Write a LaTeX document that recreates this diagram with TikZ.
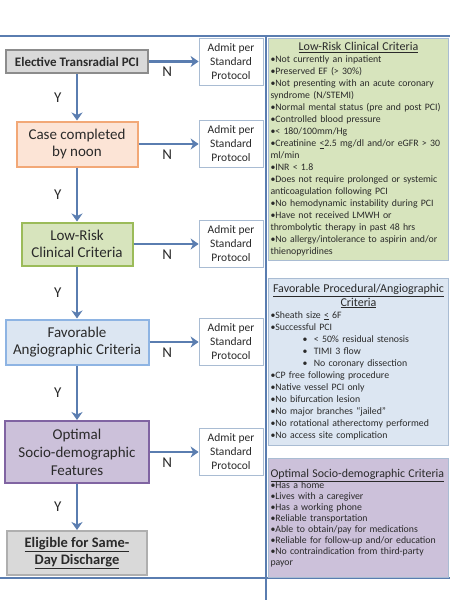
\documentclass[tikz,border=0pt]{standalone}
\usepackage{fontspec}
\setmainfont{Carlito}
\usetikzlibrary{arrows.meta,positioning}
\definecolor{cLine}{HTML}{5A7DB0}
\definecolor{cInk}{HTML}{2A2A2A}
\definecolor{cGrey}{HTML}{D9D9D9}
\definecolor{cGreyD}{HTML}{8C8C8C}
\definecolor{cOrange}{HTML}{FCE4D6}
\definecolor{cOrangeD}{HTML}{F2A877}
\definecolor{cGreen}{HTML}{D7E4BD}
\definecolor{cGreenD}{HTML}{9BBB59}
\definecolor{cBlue}{HTML}{DCE6F2}
\definecolor{cBlueD}{HTML}{8EB4E3}
\definecolor{cPurple}{HTML}{CCC1DA}
\definecolor{cPurpleD}{HTML}{8064A2}
\definecolor{cAdmit}{HTML}{A9BCD3}
\tikzset{
  box/.style      = {draw, line width=2pt, align=center, text=cInk,
                     inner sep=2pt, font=\fontsize{15}{17.5}\selectfont},
  startbox/.style = {box, draw=cGreyD, fill=cGrey,
                     font=\fontsize{13}{15}\selectfont\bfseries},
  noonbox/.style  = {box, draw=cOrangeD, fill=cOrange},
  riskbox/.style  = {box, draw=cGreenD, fill=cGreen},
  angiobox/.style = {box, draw=cBlueD, fill=cBlue},
  sociobox/.style = {box, draw=cPurpleD, fill=cPurple, font=\fontsize{15}{18}\selectfont},
  endbox/.style   = {box, draw=cGreyD!70, fill=cGrey, font=\fontsize{14.5}{17.5}\selectfont\bfseries},
  admit/.style    = {draw=cAdmit, line width=0.8pt, fill=white, align=center, text=cInk,
                     minimum width=64pt, minimum height=47pt, inner sep=1pt,
                     font=\fontsize{11.5}{14}\selectfont},
  crit/.style     = {draw=cAdmit, line width=1pt, align=left, text=cInk, anchor=north west,
                     minimum width=180pt, text width=176pt, inner xsep=2pt,
                     font=\fontsize{9.8}{12}\selectfont},
  flow/.style     = {-{Stealth[length=8pt,width=11pt,inset=2.5pt]}, draw=cLine, line width=2.4pt},
  frame/.style    = {draw=cLine, line width=2pt},
  ylab/.style     = {text=cInk, font=\fontsize{15}{17}\selectfont, left=11pt},
  nlab/.style     = {text=cInk, font=\fontsize{15}{17}\selectfont},
}
\newcommand{\crittitle}[1]{\makebox[\linewidth]{\underline{#1}}}

\begin{document}
\begin{tikzpicture}[x=1pt,y=-1pt]
  \useasboundingbox (0,0) rectangle (450,600);
  \fill[white] (0,0) rectangle (450,600);
  % frame
  \coordinate (tl) at (0,36);   \coordinate (tr) at (450,36);
  \coordinate (bl) at (0,578);  \coordinate (br) at (450,578);
  \coordinate (vt) at (266,36); \coordinate (vb) at (266,600);
  \draw[frame] (tl) -- (tr);
  \draw[frame] (bl) -- (br);
  \draw[frame] (vt) -- (vb);

  % decision chain
  \node[startbox, minimum width=142pt, minimum height=23pt] (elect) at (77,61.5)
    {Elective Transradial PCI};
  \node[noonbox, minimum width=121pt, minimum height=45pt] (noon) at (77,144)
    {Case completed\\ by noon};
  \node[riskbox, minimum width=111pt, minimum height=43pt] (risk) at (77,244)
    {Low-Risk\\ Clinical Criteria};
  \node[angiobox, minimum width=143pt, minimum height=45pt] (angio) at (77,342)
    {Favorable\\ Angiographic Criteria};
  \node[sociobox, minimum width=144pt, minimum height=62pt] (socio) at (77,452)
    {Optimal\\ Socio-demographic\\ Features};
  \node[endbox, minimum width=140pt, minimum height=44pt] (elig) at (77,553)
    {\underline{Eligible for Same-}\\ \underline{Day Discharge}};

  % admit boxes
  \node[admit] (a1) at (231,61.5) {Admit per\\ Standard\\ Protocol};
  \node[admit] (a2) at (231,144)  {Admit per\\ Standard\\ Protocol};
  \node[admit] (a3) at (231,244)  {Admit per\\ Standard\\ Protocol};
  \node[admit] (a4) at (231,342)  {Admit per\\ Standard\\ Protocol};
  \node[admit] (a5) at (231,452)  {Admit per\\ Standard\\ Protocol};

  \draw[flow] (elect) -- node[ylab] {Y} (noon);
  \draw[flow] (noon)  -- node[ylab] {Y} (risk);
  \draw[flow] (risk)  -- node[ylab] {Y} (angio);
  \draw[flow] (angio) -- node[ylab] {Y} (socio);
  \draw[flow] (socio) -- node[ylab] {Y} (elig);

  \draw[flow] (elect) -- (a1);
  \draw[flow] (noon)  -- (a2);
  \draw[flow] (risk)  -- (a3);
  \draw[flow] (angio) -- (a4);
  \draw[flow] (socio) -- (a5);
  \node[nlab, below left=2pt and 23pt of a1.west] (n1) {N};
  \node[nlab, below left=2pt and 23pt of a2.west] (n2) {N};
  \node[nlab, below left=2pt and 23pt of a3.west] (n3) {N};
  \node[nlab, below left=2pt and 23pt of a4.west] (n4) {N};
  \node[nlab, below left=2pt and 23pt of a5.west] (n5) {N};

  % criteria panels
  \node[crit, fill=cGreen, minimum height=222pt] (lowrisk) at (268,38)
    {\crittitle{\fontsize{12}{14}\selectfont Low-Risk Clinical Criteria}\\
     •Not currently an inpatient\\
     •Preserved EF (> 30\%)\\
     •Not presenting with an acute coronary\\
     syndrome (N/STEMI)\\
     •Normal mental status (pre and post PCI)\\
     •Controlled blood pressure\\
     •< 180/100mm/Hg\\
     •Creatinine \underline{<}2.5 mg/dl and/or eGFR > 30\\
     ml/min\\
     •INR < 1.8\\
     •Does not require prolonged or systemic\\
     anticoagulation following PCI\\
     •No hemodynamic instability during PCI\\
     •Have not received LMWH or\\
     thrombolytic therapy in past 48 hrs\\
     •No allergy/intolerance to aspirin and/or\\
     thienopyridines};
  \node[crit, fill=cBlue, minimum height=167pt] (angiocrit) at (268,278)
    {\crittitle{\fontsize{12}{13}\selectfont Favorable Procedural/Angiographic}\\
     \crittitle{\fontsize{12}{13}\selectfont Criteria}\\
     •Sheath size \underline{<} 6F\\
     •Successful PCI\\
     \hspace*{32pt}• \ < 50\% residual stenosis\\
     \hspace*{32pt}• \ TIMI 3 flow\\
     \hspace*{32pt}• \ No coronary dissection\\
     •CP free following procedure\\
     •Native vessel PCI only\\
     •No bifurcation lesion\\
     •No major branches “jailed”\\
     •No rotational atherectomy performed\\
     •No access site complication};
  \node[crit, fill=cPurple, minimum height=119pt,
        font=\fontsize{9.8}{11}\selectfont] (sociocrit) at (268,458)
    {{\fontsize{11.9}{13}\selectfont\underline{Optimal Socio-demographic Criteria}}\\
     •Has a home\\
     •Lives with a caregiver\\
     •Has a working phone\\
     •Reliable transportation\\
     •Able to obtain/pay for medications\\
     •Reliable for follow-up and/or education\\
     •No contraindication from third-party\\
     payor\\[10pt]};
\end{tikzpicture}
\end{document}
